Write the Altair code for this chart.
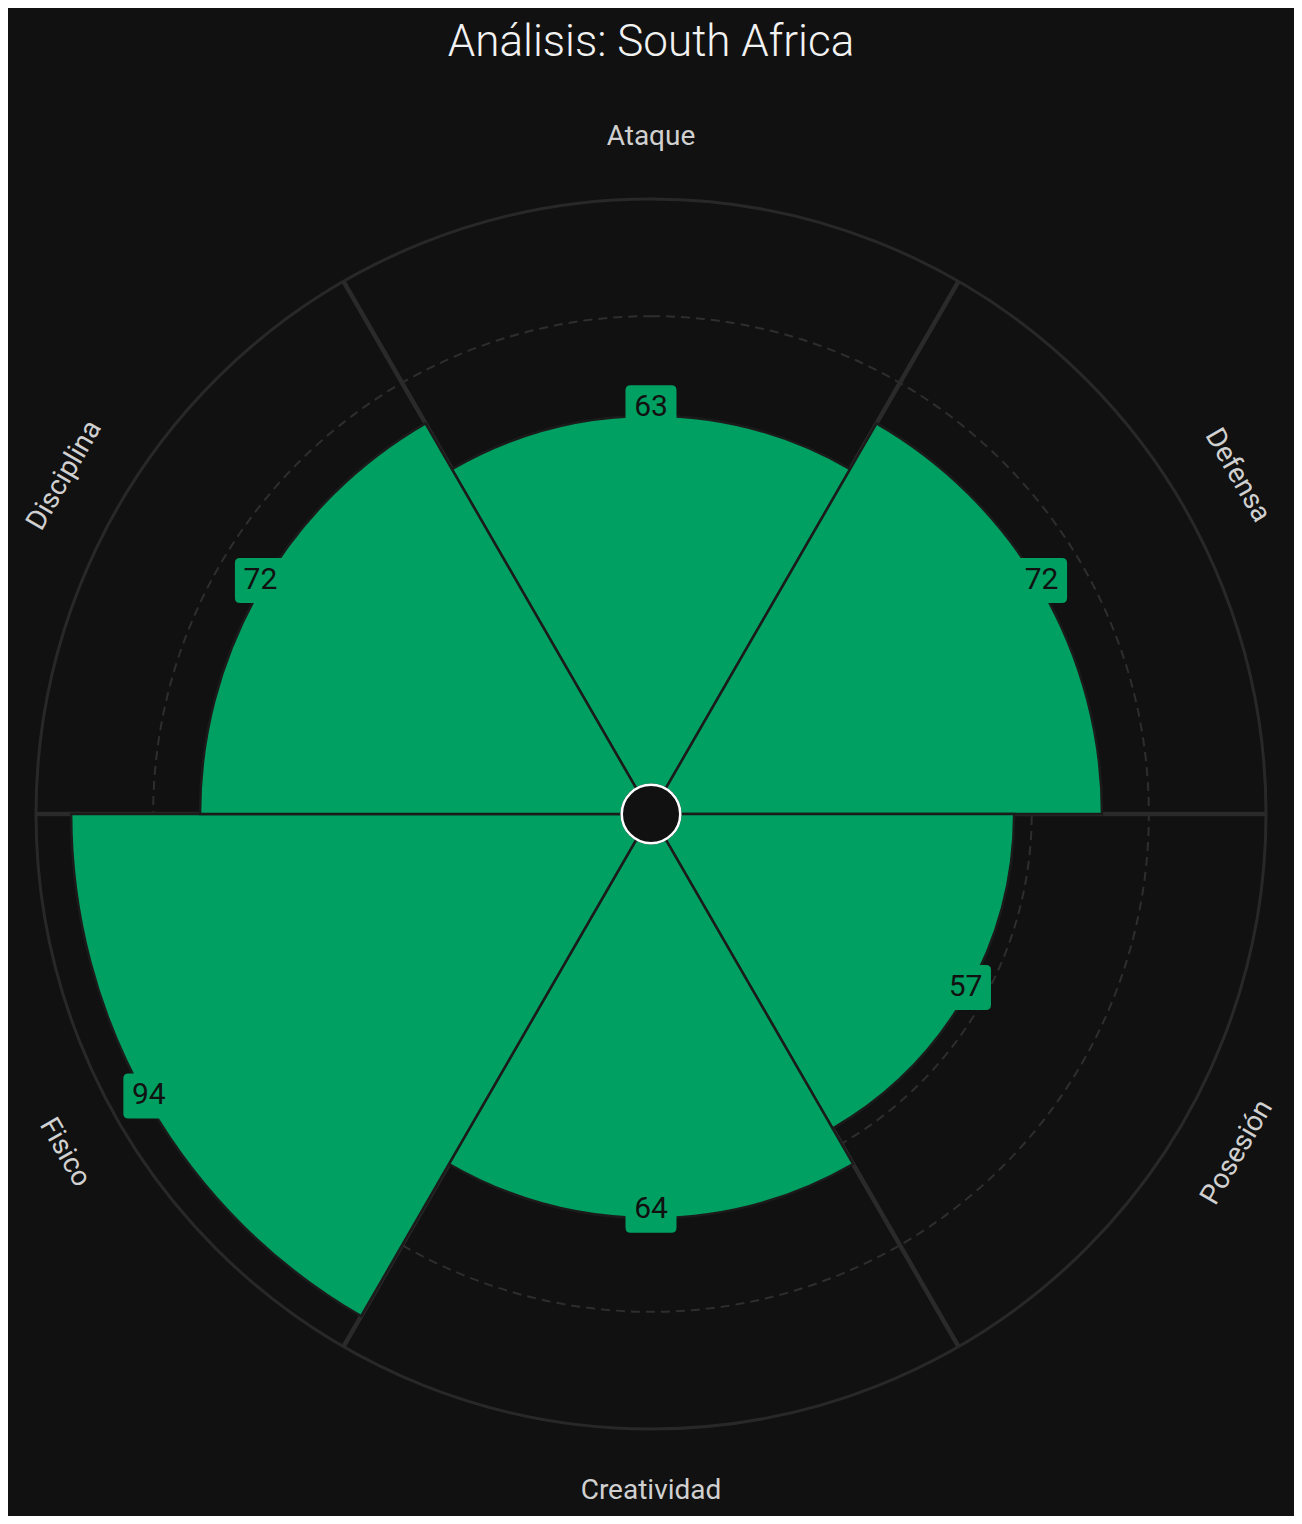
import math
import altair as alt
import pandas as pd

# ---- data ----
categories = ["Ataque", "Defensa", "Posesión", "Creatividad", "Fisico", "Disciplina"]
values = [63, 72, 57, 64, 94, 72]
grid_levels = [20, 40, 60, 80]
outer_level = [100]
center_level = [0]
title_text = "Análisis: South Africa"

# ---- style / layout ----
BG = "#111111"
GREEN = "#00A062"
FONT = "Roboto"
W, H = 1286, 1404
R_DOMAIN = [-5, 100]
R_PX = 615

n = len(categories)
step = 360 / n
df = pd.DataFrame({
    "cat": categories,
    "value": values,
    "theta_c": [i * step for i in range(n)],
})
df["t0"] = df["theta_c"] - step / 2
df["t1"] = df["theta_c"] + step / 2

theta_scale = alt.Scale(domain=[0, 360], range=[0, 2 * math.pi])
r_scale = alt.Scale(type="linear", domain=R_DOMAIN, range=[0, R_PX], zero=False)


def rad(field):
    return alt.Radius(field, scale=r_scale, stack=False)


grid = alt.Chart(pd.DataFrame({"r": grid_levels})).mark_arc(
    theta=0, theta2=2 * math.pi, fillOpacity=0, stroke="#2e2e2e",
    strokeWidth=2, strokeDash=[9, 6]
).encode(radius=rad("r:Q"))

outer = alt.Chart(pd.DataFrame({"r": outer_level})).mark_arc(
    theta=0, theta2=2 * math.pi, fillOpacity=0, stroke="#282828", strokeWidth=3
).encode(radius=rad("r:Q"))

spoke_df = pd.DataFrame({"a": list(df["t0"]), "r": outer_level * n})
spokes = alt.Chart(spoke_df).mark_arc(
    fillOpacity=0, stroke="#2a2a2a", strokeWidth=4.5
).encode(
    theta=alt.Theta("a:Q", scale=theta_scale, stack=False),
    theta2="a:Q",
    radius=rad("r:Q"),
    radius2=alt.Radius2(datum=0),
)

bars = alt.Chart(df).mark_arc(
    fill=GREEN, stroke="#1b1b1b", strokeWidth=2.5
).encode(
    theta=alt.Theta("t0:Q", scale=theta_scale, stack=False),
    theta2="t1:Q",
    radius=rad("value:Q"),
    radius2=alt.Radius2(datum=0),
)

BOX_PATH = ("M-0.8,-0.882L0.8,-0.882Q1,-0.882,1,-0.686L1,0.686Q1,0.882,0.8,0.882"
            "L-0.8,0.882Q-1,0.882,-1,0.686L-1,-0.686Q-1,-0.882,-0.8,-0.882Z")

boxes = alt.Chart(df).transform_calculate(
    rpx=f"(datum.value - ({R_DOMAIN[0]})) / ({R_DOMAIN[1]} - ({R_DOMAIN[0]})) * {R_PX}",
).transform_calculate(
    bx="datum.rpx * sin(datum.theta_c * PI / 180)",
    by="datum.rpx * cos(datum.theta_c * PI / 180)",
).mark_point(
    shape=BOX_PATH, size=51 * 51, filled=True, fill=GREEN, opacity=1,
    strokeWidth=0, yOffset=-8
).encode(
    x=alt.X("bx:Q", scale=alt.Scale(domain=[-W / 2, W / 2], nice=False, zero=False), axis=None),
    y=alt.Y("by:Q", scale=alt.Scale(domain=[-H / 2, H / 2], nice=False, zero=False), axis=None),
)

vtext = alt.Chart(df).mark_text(
    font=FONT, fontSize=30, color="#111111", align="center", baseline="alphabetic"
).encode(
    theta=alt.Theta("theta_c:Q", scale=theta_scale, stack=False),
    radius=rad("value:Q"),
    text="value:Q",
)

center = alt.Chart(pd.DataFrame({"r": center_level})).mark_arc(
    theta=0, theta2=2 * math.pi, fill=BG, stroke="#ffffff", strokeWidth=2.5
).encode(radius=rad("r:Q"))

labels = alt.Chart(df).transform_calculate(
    rot="(datum.theta_c > 90 && datum.theta_c < 270) ? (datum.theta_c + 180) % 360 : datum.theta_c"
).mark_text(
    font=FONT, fontSize=28, color="#d0d0d0", align="center", baseline="middle"
).encode(
    theta=alt.Theta("theta_c:Q", scale=theta_scale, stack=False),
    radius=alt.value(677),
    text="cat:N",
    angle=alt.Angle("rot:Q", scale=alt.Scale(domain=[0, 360], range=[0, 360])),
)

chart = alt.layer(
    grid, outer, spokes, bars, boxes, vtext, center, labels
).properties(
    width=W, height=H,
    title=alt.Title(title_text, font=FONT, fontSize=44, color="#f2f2f2",
                    fontWeight=300, anchor="middle", offset=12,
                    baseline="alphabetic"),
    padding={"left": 0, "top": 104, "right": 0, "bottom": 0},
    autosize=alt.AutoSizeParams(type="none"),
).configure(background=BG).configure_view(strokeWidth=0)

chart.save("out.html", embed_options={"renderer": "svg", "actions": False})
